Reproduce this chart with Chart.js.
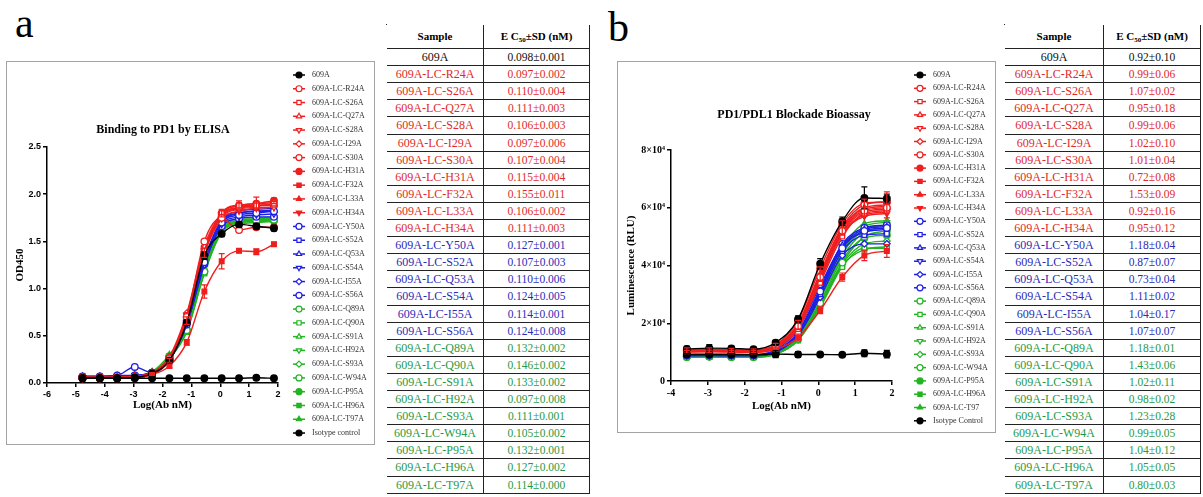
<!DOCTYPE html>
<html>
<head>
<meta charset="utf-8">
<script src="https://cdn.jsdelivr.net/npm/chart.js@4.4.1/dist/chart.umd.min.js"></script>
<style>
  html, body { margin: 0; padding: 0; background: #fff; }
  body { width: 1203px; height: 497px; position: relative; overflow: hidden; font-family: "Liberation Serif", serif; }
  .letter { position: absolute; font-size: 42px; line-height: 42px; color: #000; }
  .box { position: absolute; border: 1px solid #a3a3a3; box-sizing: border-box; }
  canvas { position: absolute; }
  .tbl { position: absolute; border-left: 1px solid #222; border-top: 1px solid #222; }
  .cell { position: absolute; box-sizing: border-box; border-right: 1px solid #222; border-bottom: 1px solid #222;
          text-align: center; white-space: nowrap; overflow: hidden; font-size: 12px; }
  .hd { font-size: 11px; font-weight: bold; color: #000; }
  .val { font-size: 11.5px; }
  sub { font-size: 7px; vertical-align: -2px; }
</style>
</head>
<body>
<div class="letter" style="left:15px; top:2px;">a</div>
<div class="letter" style="left:608px; top:6px;">b</div>
<div class="box" style="left:6px; top:61px; width:369px; height:384px;"></div>
<div class="box" style="left:617px; top:61px; width:379px; height:372px;"></div>
<canvas id="chartA" width="369" height="384" style="left:6px; top:61px;"></canvas>
<canvas id="chartB" width="379" height="372" style="left:617px; top:61px;"></canvas>
<div id="tableA" class="tbl" style="left:386px; top:24px;"></div>
<div id="tableB" class="tbl" style="left:1004px; top:24px;"></div>
<script>
// log concentrations (nM)
const xA = [-4.77, -4.17, -3.57, -2.96, -2.36, -1.76, -1.16, -0.55, 0.05, 0.65, 1.25, 1.86];
const xB = [-3.57, -2.96, -2.36, -1.76, -1.16, -0.55, 0.05, 0.65, 1.25, 1.86];

// panel a: OD450
const a609A = [0.05, 0.05, 0.05, 0.06, 0.10, 0.24, 0.64, 1.35, 1.58, 1.68, 1.66, 1.64];
const aR24A = [0.06, 0.06, 0.06, 0.07, 0.10, 0.26, 0.70, 1.50, 1.75, 1.62, 1.65, 1.65];
const aS26A = [0.05, 0.05, 0.06, 0.06, 0.10, 0.25, 0.72, 1.40, 1.80, 1.88, 1.88, 1.90];
const aQ27A = [0.06, 0.06, 0.06, 0.07, 0.11, 0.27, 0.70, 1.38, 1.78, 1.86, 1.88, 1.88];
const aS28A = [0.05, 0.05, 0.06, 0.06, 0.10, 0.25, 0.68, 1.40, 1.76, 1.84, 1.86, 1.86];
const aI29A = [0.06, 0.06, 0.06, 0.07, 0.11, 0.28, 0.74, 1.45, 1.80, 1.88, 1.90, 1.91];
const aS30A = [0.06, 0.06, 0.06, 0.06, 0.10, 0.26, 0.70, 1.42, 1.77, 1.85, 1.88, 1.89];
const aH31A = [0.05, 0.05, 0.05, 0.06, 0.10, 0.24, 0.66, 1.38, 1.80, 1.88, 1.90, 1.93];
const aF32A = [0.05, 0.05, 0.05, 0.06, 0.09, 0.18, 0.43, 0.97, 1.29, 1.40, 1.39, 1.47];
const aL33A = [0.06, 0.06, 0.06, 0.06, 0.10, 0.26, 0.70, 1.40, 1.78, 1.86, 1.88, 1.89];
const aH34A = [0.05, 0.05, 0.06, 0.06, 0.10, 0.25, 0.68, 1.37, 1.74, 1.82, 1.85, 1.86];
const aY50A = [0.07, 0.07, 0.08, 0.17, 0.11, 0.24, 0.64, 1.28, 1.70, 1.78, 1.80, 1.82];
const aS52A = [0.07, 0.07, 0.07, 0.08, 0.11, 0.26, 0.68, 1.32, 1.72, 1.82, 1.84, 1.85];
const aQ53A = [0.07, 0.07, 0.07, 0.08, 0.11, 0.25, 0.66, 1.30, 1.70, 1.80, 1.82, 1.83];
const aS54A = [0.06, 0.06, 0.07, 0.08, 0.11, 0.24, 0.62, 1.25, 1.68, 1.76, 1.78, 1.79];
const aI55A = [0.07, 0.07, 0.08, 0.08, 0.11, 0.26, 0.66, 1.30, 1.72, 1.80, 1.82, 1.82];
const aS56A = [0.06, 0.06, 0.07, 0.08, 0.10, 0.24, 0.62, 1.26, 1.66, 1.74, 1.76, 1.76];
const aQ89A = [0.06, 0.06, 0.06, 0.07, 0.11, 0.28, 0.56, 1.18, 1.62, 1.70, 1.72, 1.73];
const aQ90A = [0.06, 0.06, 0.06, 0.07, 0.11, 0.26, 0.54, 1.16, 1.60, 1.70, 1.72, 1.72];
const aS91A = [0.06, 0.06, 0.06, 0.07, 0.12, 0.30, 0.58, 1.20, 1.62, 1.71, 1.73, 1.74];
const aH92A = [0.06, 0.06, 0.06, 0.07, 0.11, 0.27, 0.66, 1.28, 1.66, 1.72, 1.73, 1.74];
const aS93A = [0.06, 0.06, 0.06, 0.07, 0.11, 0.28, 0.62, 1.24, 1.64, 1.72, 1.74, 1.75];
const aW94A = [0.06, 0.06, 0.06, 0.07, 0.11, 0.28, 0.64, 1.26, 1.66, 1.74, 1.75, 1.76];
const aP95A = [0.06, 0.06, 0.06, 0.07, 0.11, 0.28, 0.56, 1.18, 1.62, 1.70, 1.71, 1.72];
const aH96A = [0.06, 0.06, 0.06, 0.07, 0.11, 0.27, 0.55, 1.17, 1.60, 1.68, 1.70, 1.71];
const aT97A = [0.06, 0.06, 0.06, 0.07, 0.11, 0.28, 0.60, 1.22, 1.64, 1.70, 1.72, 1.73];
const aIso  = [0.05, 0.05, 0.05, 0.05, 0.05, 0.05, 0.05, 0.05, 0.05, 0.05, 0.055, 0.05];
const sdA609A = [0, 0, 0, 0, 0.01, 0.02, 0.03, 0.04, 0.03, 0.03, 0.03, 0.03];
const sdAH31A = [0, 0, 0, 0, 0.01, 0.02, 0.04, 0.05, 0.04, 0.05, 0.07, 0.03];
const sdAF32A = [0, 0, 0, 0, 0.01, 0.02, 0.03, 0.07, 0.08, 0.02, 0.03, 0.02];

// panel b: luminescence (RLU)
const b609A = [11100, 11400, 11300, 11000, 13300, 21400, 40600, 55300, 63400, 63200];
const bR24A = [10500, 10600, 10500, 10400, 12000, 19000, 36000, 52000, 59000, 60000];
const bS26A = [10200, 10300, 10200, 10100, 11500, 18000, 34000, 50000, 58000, 59000];
const bQ27A = [10600, 10700, 10600, 10500, 12200, 19500, 37000, 53000, 60000, 61000];
const bS28A = [10300, 10400, 10300, 10200, 11800, 18500, 35000, 51000, 57500, 58500];
const bI29A = [10400, 10500, 10400, 10300, 11900, 18800, 35500, 51500, 58500, 59500];
const bS30A = [10700, 10800, 10700, 10600, 12300, 20000, 37500, 53500, 61000, 62000];
const bH31A = [10800, 10900, 10800, 10700, 12500, 21000, 39000, 54500, 61500, 62000];
const bF32A = [10000, 10100, 10000, 9900, 11000, 15000, 24500, 36000, 43500, 45000];
const bL33A = [10500, 10600, 10500, 10400, 12000, 19500, 36500, 52500, 59500, 60500];
const bH34A = [10300, 10400, 10300, 10200, 11700, 18500, 35000, 51000, 57000, 58000];
const bY50A = [9000, 9100, 9000, 9000, 10300, 16500, 31000, 46000, 52000, 53000];
const bS52A = [8800, 8900, 8800, 8800, 10000, 16000, 30000, 45000, 50500, 51000];
const bQ53A = [9200, 9300, 9200, 9100, 10800, 18000, 33000, 47000, 52500, 53500];
const bS54A = [8900, 9000, 8900, 8900, 10200, 16800, 31500, 46500, 51500, 52500];
const bI55A = [8700, 8800, 8700, 8700, 9900, 15800, 29000, 43500, 47500, 47500];
const bS56A = [9000, 9100, 9000, 9000, 10400, 17000, 32000, 47500, 53000, 54000];
const bQ89A = [8400, 8500, 8400, 8400, 9500, 14500, 27000, 41000, 50000, 52000];
const bQ90A = [8200, 8300, 8200, 8200, 9200, 14000, 25500, 39500, 46000, 46000];
const bS91A = [8500, 8600, 8500, 8500, 9700, 15200, 28500, 43000, 51500, 53000];
const bH92A = [8600, 8700, 8600, 8600, 9900, 16000, 30000, 45000, 53500, 55000];
const bS93A = [8300, 8400, 8300, 8300, 9400, 14300, 26500, 40500, 47500, 48500];
const bW94A = [8500, 8600, 8500, 8500, 9800, 15500, 29000, 44000, 52500, 54000];
const bP95A = [8400, 8500, 8400, 8400, 9600, 14800, 27500, 42000, 49500, 50500];
const bH96A = [8200, 8300, 8200, 8200, 9300, 14200, 26000, 40000, 45500, 46500];
const bT97A = [8600, 8700, 8600, 8600, 10000, 16200, 30500, 46000, 54500, 55500];
const bIso  = [9200, 9200, 9200, 9200, 9300, 9200, 9200, 9100, 9600, 9300];
const sdB609A = [1000, 1200, 800, 700, 800, 1200, 1800, 1500, 3800, 1500];
const sdBQ27A = [900, 800, 700, 600, 800, 1500, 2500, 2500, 3000, 4500];
const sdBF32A = [600, 600, 600, 600, 700, 1200, 1200, 1400, 1800, 2200];
const sdBIso  = [300, 300, 300, 300, 1200, 1000, 500, 500, 1200, 1300];

const labelsA = ['609A', '609A-LC-R24A', '609A-LC-S26A', '609A-LC-Q27A', '609A-LC-S28A', '609A-LC-I29A',
  '609A-LC-S30A', '609A-LC-H31A', '609A-LC-F32A', '609A-LC-L33A', '609A-LC-H34A', '609A-LC-Y50A',
  '609A-LC-S52A', '609A-LC-Q53A', '609A-LC-S54A', '609A-LC-I55A', '609A-LC-S56A', '609A-LC-Q89A',
  '609A-LC-Q90A', '609A-LC-S91A', '609A-LC-H92A', '609A-LC-S93A', '609A-LC-W94A', '609A-LC-P95A',
  '609A-LC-H96A', '609A-LC-T97A', 'Isotype control'];
const labelsB = labelsA.slice(0, 25).concat(['609A-LC-T97', 'Isotype Control']);

const seriesA = [a609A, aR24A, aS26A, aQ27A, aS28A, aI29A, aS30A, aH31A, aF32A, aL33A, aH34A,
  aY50A, aS52A, aQ53A, aS54A, aI55A, aS56A, aQ89A, aQ90A, aS91A, aH92A, aS93A, aW94A, aP95A, aH96A, aT97A, aIso];
const seriesB = [b609A, bR24A, bS26A, bQ27A, bS28A, bI29A, bS30A, bH31A, bF32A, bL33A, bH34A,
  bY50A, bS52A, bQ53A, bS54A, bI55A, bS56A, bQ89A, bQ90A, bS91A, bH92A, bS93A, bW94A, bP95A, bH96A, bT97A, bIso];
const errA = { 0: sdA609A, 7: sdAH31A, 8: sdAF32A };
const errB = { 0: sdB609A, 3: sdBQ27A, 8: sdBF32A, 26: sdBIso };

// table
const tableSamples = labelsA.slice(0, 26);
const ec50A = ['0.098±0.001', '0.097±0.002', '0.110±0.004', '0.111±0.003', '0.106±0.003', '0.097±0.006',
  '0.107±0.004', '0.115±0.004', '0.155±0.011', '0.106±0.002', '0.111±0.003', '0.127±0.001', '0.107±0.003',
  '0.110±0.006', '0.124±0.005', '0.114±0.001', '0.124±0.008', '0.132±0.002', '0.146±0.002', '0.133±0.002',
  '0.097±0.008', '0.111±0.001', '0.105±0.002', '0.132±0.001', '0.127±0.002', '0.114±0.000'];
const ec50B = ['0.92±0.10', '0.99±0.06', '1.07±0.02', '0.95±0.18', '0.99±0.06', '1.02±0.10', '1.01±0.04',
  '0.72±0.08', '1.53±0.09', '0.92±0.16', '0.95±0.12', '1.18±0.04', '0.87±0.07', '0.73±0.04', '1.11±0.02',
  '1.04±0.17', '1.07±0.07', '1.18±0.01', '1.43±0.06', '1.02±0.11', '0.98±0.02', '1.23±0.28', '0.99±0.05',
  '1.04±0.12', '1.05±0.05', '0.80±0.03'];

const BLACK = '#000000', RED = '#f01e1e', BLUE = '#1e1ee6', GREEN = '#22b422';
// [color, pointStyle, filled, rotation]
const marks = [
  [BLACK, 'circle', true, 0],
  [RED, 'circle', false, 0], [RED, 'rect', false, 0], [RED, 'triangle', false, 0], [RED, 'triangle', false, 180],
  [RED, 'rectRot', false, 0], [RED, 'circle', false, 0], [RED, 'circle', true, 0], [RED, 'rect', true, 0],
  [RED, 'triangle', true, 0], [RED, 'triangle', true, 180],
  [BLUE, 'circle', false, 0], [BLUE, 'rect', false, 0], [BLUE, 'triangle', false, 0], [BLUE, 'triangle', false, 180],
  [BLUE, 'rectRot', false, 0], [BLUE, 'circle', false, 0],
  [GREEN, 'circle', false, 0], [GREEN, 'rect', false, 0], [GREEN, 'triangle', false, 0], [GREEN, 'triangle', false, 180],
  [GREEN, 'rectRot', false, 0], [GREEN, 'circle', false, 0], [GREEN, 'circle', true, 0], [GREEN, 'rect', true, 0],
  [GREEN, 'triangle', true, 0],
  [BLACK, 'circle', true, 0]
];
const drawOrder = i => i === 0 ? 0 : i === 26 ? 1 : i <= 10 ? 2 : i <= 16 ? 3 : 4;

function buildSets(xs, series, labels, errs) {
  return series.map((vals, i) => {
    const [color, style, filled, rot] = marks[i];
    return {
      label: labels[i],
      data: vals.map((v, j) => ({ x: xs[j], y: v })),
      sd: errs[i],
      borderColor: color,
      backgroundColor: color,
      pointBackgroundColor: filled ? color : '#ffffff',
      pointBorderColor: color,
      pointStyle: style,
      pointRotation: rot,
      pointRadius: 3.3,
      pointBorderWidth: 1.3,
      borderWidth: 1.4,
      cubicInterpolationMode: 'monotone',
      order: drawOrder(i)
    };
  });
}

const errBars = {
  id: 'errBars',
  afterDatasetsDraw(chart) {
    const ctx = chart.ctx, ys = chart.scales.y;
    chart.data.datasets.forEach((ds, i) => {
      if (!ds.sd) return;
      const meta = chart.getDatasetMeta(i);
      ctx.save();
      ctx.strokeStyle = ds.borderColor;
      ctx.lineWidth = 1.2;
      meta.data.forEach((pt, j) => {
        const s = ds.sd[j];
        if (!s) return;
        const v = ds.data[j].y;
        const y1 = ys.getPixelForValue(v + s), y2 = ys.getPixelForValue(v - s);
        ctx.beginPath();
        ctx.moveTo(pt.x, y1); ctx.lineTo(pt.x, y2);
        ctx.moveTo(pt.x - 3, y1); ctx.lineTo(pt.x + 3, y1);
        ctx.moveTo(pt.x - 3, y2); ctx.lineTo(pt.x + 3, y2);
        ctx.stroke();
      });
      ctx.restore();
    });
  }
};

// legend with line + marker, and the plot title
const sideLegend = {
  id: 'sideLegend',
  afterDraw(chart, args, o) {
    const ctx = chart.ctx;
    ctx.save();
    ctx.textBaseline = 'middle';
    chart.data.datasets.forEach((ds, i) => {
      const y = o.top + i * o.step;
      ctx.strokeStyle = ds.borderColor;
      ctx.lineWidth = 1.5;
      ctx.beginPath(); ctx.moveTo(o.x - 6, y); ctx.lineTo(o.x + 6, y); ctx.stroke();
      ctx.fillStyle = ds.pointBackgroundColor;
      ctx.lineWidth = 1.2;
      Chart.helpers.drawPoint(ctx, { pointStyle: ds.pointStyle, radius: 3, rotation: ds.pointRotation, borderWidth: 1.2 }, o.x, y);
      ctx.fillStyle = '#333';
      ctx.font = '8px "Liberation Serif"';
      ctx.textAlign = 'left';
      ctx.fillText(ds.label, o.textX, y);
    });
    ctx.font = 'bold 12px "Liberation Serif"';
    ctx.fillStyle = '#000';
    ctx.textAlign = 'center';
    ctx.fillText(o.title, o.titleX, o.titleY);
    ctx.restore();
  }
};

function axisStyle(tickFont) {
  return {
    grid: { display: true, drawOnChartArea: false, drawTicks: true, tickLength: 4, color: '#000', lineWidth: 1.5 },
    border: { display: true, color: '#000', width: 1.5 },
    ticks: { color: '#000', font: tickFont, padding: 2 }
  };
}

function makeChart(id, cfg) {
  const xAxis = axisStyle(cfg.tickFont);
  const yAxis = axisStyle(cfg.tickFont);
  Object.assign(xAxis, {
    type: 'linear', min: cfg.xMin, max: 2,
    afterFit: s => { s.height = 40; },
    title: { display: true, text: 'Log(Ab nM)', color: '#000', font: { family: 'Liberation Serif', weight: 'bold', size: 11 }, padding: { top: 0, bottom: cfg.xTitlePad } }
  });
  xAxis.ticks.stepSize = 1;
  Object.assign(yAxis, {
    min: 0, max: cfg.yMax,
    afterFit: s => { s.width = cfg.yWidth; },
    title: { display: true, text: cfg.yTitle, color: '#000', font: { family: 'Liberation Serif', weight: 'bold', size: 11 }, padding: { top: cfg.yTitlePad, bottom: 0 } }
  });
  yAxis.ticks.stepSize = cfg.yStep;
  yAxis.ticks.callback = cfg.yFmt;

  return new Chart(document.getElementById(id), {
    type: 'line',
    data: { datasets: cfg.datasets },
    options: {
      responsive: false,
      animation: false,
      layout: { padding: cfg.padding },
      plugins: {
        legend: { display: false },
        tooltip: { enabled: false },
        sideLegend: cfg.legend
      },
      scales: { x: xAxis, y: yAxis }
    },
    plugins: [errBars, sideLegend]
  });
}

makeChart('chartA', {
  datasets: buildSets(xA, seriesA, labelsA, errA),
  xMin: -6, yMax: 2.5, yStep: 0.5, yWidth: 41,
  yFmt: v => v.toFixed(1),
  yTitle: 'OD450', yTitlePad: 8, xTitlePad: 11,
  tickFont: { family: 'Liberation Sans', weight: 'bold', size: 9 },
  padding: { left: 0, top: 86, right: 97, bottom: 22 },
  legend: { x: 293, textX: 306, top: 14, step: 13.77, title: 'Binding to PD1 by ELISA', titleX: 157, titleY: 69 }
});

makeChart('chartB', {
  datasets: buildSets(xB, seriesB, labelsB, errB),
  xMin: -4, yMax: 80000, yStep: 20000, yWidth: 54,
  yFmt: v => v === 0 ? '0' : (v / 10000) + '×10⁴',
  yTitle: 'Luminescence (RLU)', yTitlePad: 8, xTitlePad: 8,
  tickFont: { family: 'Liberation Serif', weight: 'bold', size: 10 },
  padding: { left: 0, top: 89, right: 104, bottom: 12 },
  legend: { x: 303, textX: 316, top: 14, step: 13.3, title: 'PD1/PDL1 Blockade Bioassay', titleX: 177, titleY: 54 }
});

function rowColor(i) {
  if (i === 0) return '#111';
  if (i <= 10) return '#e02a2a';
  if (i <= 16) return '#2b2bb8';
  return '#1f9a48';
}

// table grid: header 24px, data rows about 17px
function fillTable(id, values, w1, w2) {
  const t = document.getElementById(id);
  const cell = (left, top, w, h, cls, color, html) =>
    '<div class="cell ' + cls + '" style="left:' + left + 'px;top:' + top + 'px;width:' + w + 'px;height:' + h +
    'px;line-height:' + (h - 1) + 'px;color:' + color + '">' + html + '</div>';
  let html = cell(0, 0, w1, 24, 'hd', '#000', 'Sample') +
    cell(w1, 0, w2, 24, 'hd', '#000', 'E C<sub>50</sub>±SD (nM)');
  tableSamples.forEach((s, i) => {
    const top = 24 + Math.round(i * 17.1), h = 24 + Math.round((i + 1) * 17.1) - top, c = rowColor(i);
    html += cell(0, top, w1, h, '', c, s) + cell(w1, top, w2, h, 'val', c, values[i]);
  });
  t.innerHTML = html;
}
fillTable('tableA', ec50A, 97, 106);
fillTable('tableB', ec50B, 99, 97);
</script>
</body>
</html>
